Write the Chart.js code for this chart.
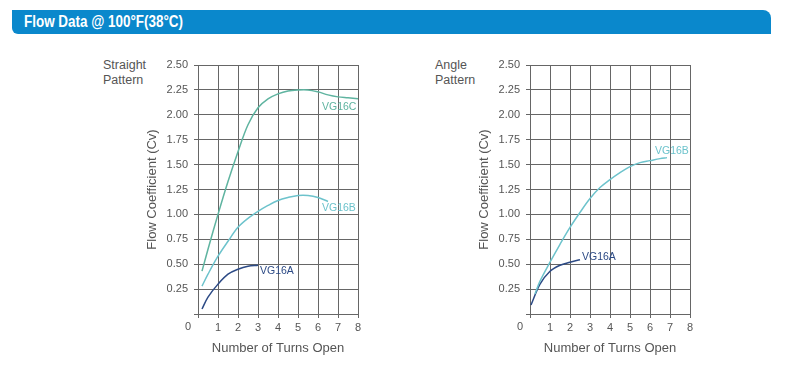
<!DOCTYPE html>
<html>
<head>
<meta charset="utf-8">
<script src="https://cdn.jsdelivr.net/npm/chart.js@4.4.1/dist/chart.umd.min.js"></script>
<style>
  body { margin: 0; background: #fff; width: 800px; height: 369px; position: relative; overflow: hidden; font-family: "Liberation Sans", Arial, sans-serif; }
  .banner {
    position: absolute; left: 12px; top: 10px; width: 759px; height: 24px;
    background: #0a88cc; border-radius: 0 8px 0 6px;
    color: #fff; font: bold 16px "Liberation Sans", sans-serif;
    line-height: 24px; padding-left: 12px; box-sizing: border-box;
  }
  .banner span { display: inline-block; transform: scaleX(0.84); transform-origin: left center; }
  .pattern { position: absolute; color: #555; font-size: 12.5px; line-height: 15px; }
  .box { position: absolute; top: 50px; width: 240px; height: 310px; }
</style>
</head>
<body>
<div class="banner"><span>Flow Data @ 100°F(38°C)</span></div>
<div class="pattern" style="left:103px; top:58px;">Straight<br>Pattern</div>
<div class="pattern" style="left:435px; top:58px;">Angle<br>Pattern</div>
<div class="box" style="left:130px;"><canvas id="straightChart"></canvas></div>
<div class="box" style="left:462px;"><canvas id="angleChart"></canvas></div>

<script>
// Datos (Cv frente a vueltas)
const yTicks = [0, 0.25, 0.5, 0.75, 1.0, 1.25, 1.5, 1.75, 2.0, 2.25, 2.5];
const xTicks = [0, 1, 2, 3, 4, 5, 6, 7, 8];

// Straight pattern
const rectaCTurns = [0.2, 0.5, 1, 1.5, 2, 2.5, 3, 3.5, 4, 4.5, 5, 5.5, 6, 6.5, 7, 7.5, 8];
const rectaCCv    = [0.43, 0.65, 1.0, 1.33, 1.63, 1.9, 2.07, 2.16, 2.21, 2.24, 2.25, 2.25, 2.23, 2.2, 2.18, 2.17, 2.16];
const rectaBTurns = [0.2, 0.5, 1, 1.5, 2, 2.5, 3, 3.5, 4, 4.5, 5, 5.5, 6, 6.5];
const rectaBCv    = [0.28, 0.40, 0.58, 0.73, 0.87, 0.96, 1.03, 1.09, 1.14, 1.17, 1.19, 1.19, 1.17, 1.13];
const rectaATurns = [0.2, 0.5, 1, 1.5, 2, 2.5, 3];
const rectaACv    = [0.05, 0.17, 0.30, 0.40, 0.45, 0.48, 0.49];

// Angle pattern
const anguloBTurns = [0.25, 0.5, 1, 1.5, 2, 2.5, 3, 3.5, 4, 4.5, 5, 5.5, 6, 6.5, 6.85];
const anguloBCv    = [0.2, 0.33, 0.52, 0.70, 0.87, 1.02, 1.16, 1.27, 1.35, 1.42, 1.48, 1.52, 1.54, 1.56, 1.57];
const anguloATurns = [0.05, 0.5, 1, 1.5, 2, 2.5];
const anguloACv    = [0.09, 0.30, 0.43, 0.49, 0.52, 0.545];

const colores = { C: '#5fb4a0', B: '#6dc3cc', A: '#2c4a85' };

function puntos(xs, ys) {
    return xs.map((x, i) => ({ x: x, y: ys[i] }));
}

function serie(nombre, xs, ys, color) {
    return {
        label: nombre,
        data: puntos(xs, ys),
        borderColor: color,
        borderWidth: 1.5,
        pointRadius: 0,
        fill: false,
        tension: 0.35
    };
}

// Etiquetas de curva y el "0" en la esquina
const etiquetasPlugin = {
    id: 'etiquetas',
    afterDraw(chart, args, opts) {
        const ctx = chart.ctx;
        const xs = chart.scales.x, ys = chart.scales.y;
        ctx.save();
        ctx.font = '10.5px "Liberation Sans", sans-serif';
        ctx.textBaseline = 'middle';
        ctx.textAlign = 'left';
        (opts.items || []).forEach(it => {
            ctx.fillStyle = it.color;
            ctx.fillText(it.text, xs.getPixelForValue(it.x), ys.getPixelForValue(it.y));
        });
        ctx.font = '11px "Liberation Sans", sans-serif';
        ctx.fillStyle = '#555';
        ctx.textAlign = 'center';
        ctx.fillText('0', xs.getPixelForValue(0) - 10, ys.getPixelForValue(0) + 13);
        ctx.restore();
    }
};

function opciones(items) {
    const grid = { color: '#666', lineWidth: 1, tickLength: 4, drawTicks: true };
    return {
        responsive: true,
        maintainAspectRatio: false,
        animation: false,
        layout: { padding: { left: 0, right: 12, top: 15, bottom: 0 } },
        plugins: {
            legend: { display: false },
            tooltip: { enabled: false },
            etiquetas: { items: items }
        },
        scales: {
            x: {
                type: 'linear',
                min: 0, max: 8,
                afterBuildTicks: s => { s.ticks = xTicks.map(v => ({ value: v })); },
                afterFit: s => { s.height = 46; },
                grid: grid,
                border: { color: '#666' },
                ticks: {
                    color: '#555', font: { family: 'Liberation Sans', size: 11 }, padding: 3,
                    callback: v => v === 0 ? '' : String(v)
                },
                title: {
                    display: true, text: 'Number of Turns Open', color: '#555',
                    font: { family: 'Liberation Sans', size: 13 }, padding: { top: 4, bottom: 4 }
                }
            },
            y: {
                type: 'linear',
                min: 0, max: 2.5,
                afterBuildTicks: s => { s.ticks = yTicks.map(v => ({ value: v })); },
                afterFit: s => { s.width = 68; },
                grid: grid,
                border: { color: '#666' },
                ticks: {
                    color: '#555', font: { family: 'Liberation Sans', size: 11 }, padding: 6,
                    callback: v => v === 0 ? '' : v.toFixed(2)
                },
                title: {
                    display: true, text: 'Flow Coefficient (Cv)', color: '#555',
                    font: { family: 'Liberation Sans', size: 13 }, padding: { top: 15, bottom: 0 }
                }
            }
        }
    };
}

new Chart(document.getElementById('straightChart'), {
    type: 'line',
    data: {
        datasets: [
            serie('VG16C', rectaCTurns, rectaCCv, colores.C),
            serie('VG16B', rectaBTurns, rectaBCv, colores.B),
            serie('VG16A', rectaATurns, rectaACv, colores.A)
        ]
    },
    options: opciones([
        { text: 'VG16C', x: 6.2, y: 2.08, color: colores.C },
        { text: 'VG16B', x: 6.2, y: 1.06, color: colores.B },
        { text: 'VG16A', x: 3.1, y: 0.43, color: colores.A }
    ]),
    plugins: [etiquetasPlugin]
});

new Chart(document.getElementById('angleChart'), {
    type: 'line',
    data: {
        datasets: [
            serie('VG16B', anguloBTurns, anguloBCv, colores.B),
            serie('VG16A', anguloATurns, anguloACv, colores.A)
        ]
    },
    options: opciones([
        { text: 'VG16B', x: 6.25, y: 1.64, color: colores.B },
        { text: 'VG16A', x: 2.6, y: 0.57, color: colores.A }
    ]),
    plugins: [etiquetasPlugin]
});
</script>
</body>
</html>
